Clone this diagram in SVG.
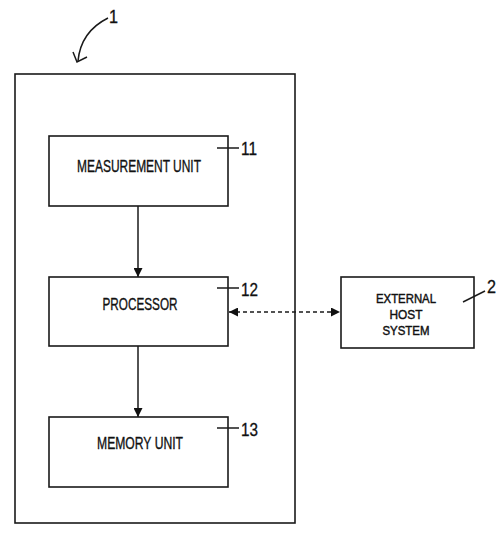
<svg xmlns="http://www.w3.org/2000/svg" width="500" height="544" viewBox="0 0 500 544">
<style>
.box{fill:#fff;stroke:#1a1a1a;stroke-width:1.6}
.t{font-family:"Liberation Sans",Arial,sans-serif;font-size:16.5px;fill:#111;stroke:#111;stroke-width:0.35;text-anchor:middle}
.e{font-size:13.5px;stroke-width:0.45}
.n{font-family:"Liberation Sans",Arial,sans-serif;font-size:18px;fill:#111;stroke:#111;stroke-width:0.3}
.ln{stroke:#1a1a1a;stroke-width:1.5;fill:none}
</style>
<defs>
<marker id="ah" viewBox="0 0 10 10" refX="10" refY="5" markerWidth="9" markerHeight="9" markerUnits="userSpaceOnUse" orient="auto-start-reverse">
<path d="M0,0 L10,5 L0,10 z" fill="#111"/>
</marker>
</defs>
<rect width="500" height="544" fill="#fff"/>
<g id="device">
<rect class="box" x="15" y="74" width="280" height="449"/>
<path class="ln" d="M108,18 C92,26 80,40 78,61" stroke-width="1.8"/>
<path class="ln" d="M73,52 L77,62 L87,57" stroke-width="1.8"/>
<text class="n" x="109" y="23" textLength="9" lengthAdjust="spacingAndGlyphs">1</text>
</g>
<g id="measurement">
<rect class="box" x="49" y="136" width="179" height="70"/>
<text class="t" x="139" y="172" textLength="124" lengthAdjust="spacingAndGlyphs">MEASUREMENT UNIT</text>
<line class="ln" x1="217" y1="148" x2="239" y2="148"/>
<text class="n" x="241" y="155" textLength="16" lengthAdjust="spacingAndGlyphs">11</text>
</g>
<g id="processor">
<rect class="box" x="49" y="277" width="179" height="69"/>
<text class="t" x="140" y="310" textLength="75" lengthAdjust="spacingAndGlyphs">PROCESSOR</text>
<line class="ln" x1="217" y1="288" x2="239" y2="288"/>
<text class="n" x="241" y="296" textLength="17" lengthAdjust="spacingAndGlyphs">12</text>
</g>
<g id="memory">
<rect class="box" x="49" y="417" width="179" height="70"/>
<text class="t" x="140" y="449" textLength="86" lengthAdjust="spacingAndGlyphs">MEMORY UNIT</text>
<line class="ln" x1="217" y1="428" x2="239" y2="428"/>
<text class="n" x="241" y="436" textLength="17" lengthAdjust="spacingAndGlyphs">13</text>
</g>
<g id="external">
<rect class="box" x="341" y="277" width="133" height="71"/>
<text class="t e" x="406" y="303" textLength="60" lengthAdjust="spacingAndGlyphs">EXTERNAL</text>
<text class="t e" x="406" y="319" textLength="33" lengthAdjust="spacingAndGlyphs">HOST</text>
<text class="t e" x="406" y="335" textLength="47" lengthAdjust="spacingAndGlyphs">SYSTEM</text>
<line class="ln" x1="463" y1="302" x2="485" y2="291"/>
<text class="n" x="487" y="293" textLength="9" lengthAdjust="spacingAndGlyphs">2</text>
</g>
<g id="connectors">
<line class="ln" x1="138" y1="206" x2="138" y2="277" marker-end="url(#ah)"/>
<line class="ln" x1="138" y1="346" x2="138" y2="417" marker-end="url(#ah)"/>
<line class="ln" x1="229" y1="312" x2="340" y2="312" stroke-dasharray="4,3" marker-start="url(#ah)" marker-end="url(#ah)"/>
</g>
</svg>
